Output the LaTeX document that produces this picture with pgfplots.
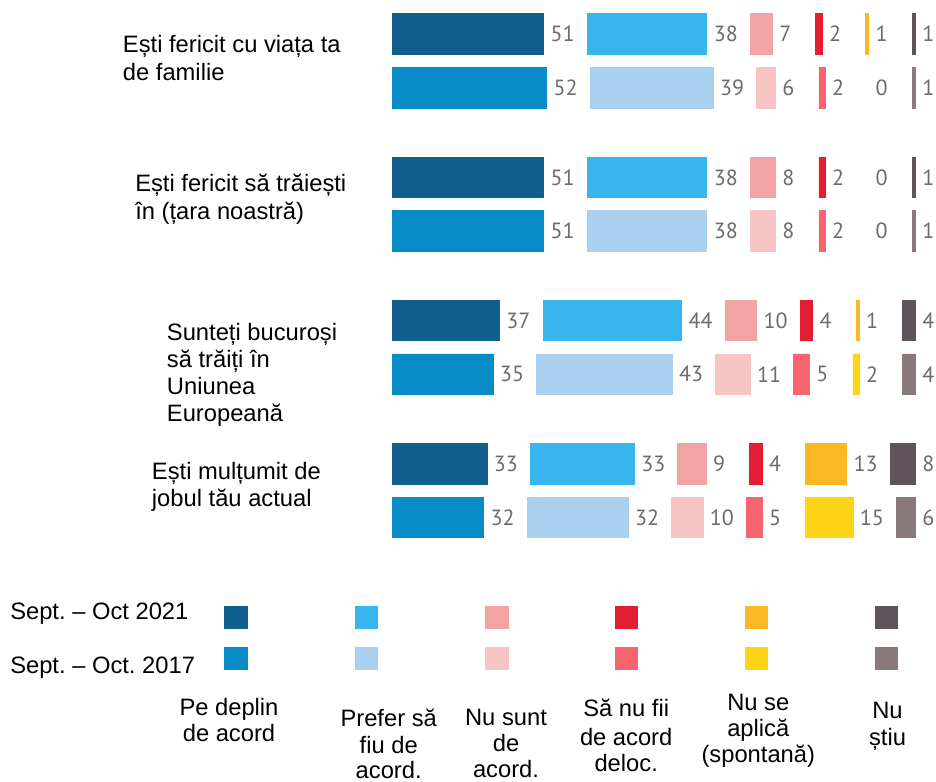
\documentclass[border=0pt]{standalone}
\usepackage{pgfplots}
\pgfplotsset{compat=1.18}
\usepackage{pgfplotstable}
\usepackage{fontspec}
\setmainfont{Liberation Sans}
\newfontfamily\numfont{PT Sans}
\frenchspacing

\definecolor{cAn}{HTML}{0F5E8C}
\definecolor{cAo}{HTML}{088CC8}
\definecolor{cBn}{HTML}{37B6ED}
\definecolor{cBo}{HTML}{A9D0EF}
\definecolor{cCn}{HTML}{F4A3A3}
\definecolor{cCo}{HTML}{F6C5C4}
\definecolor{cDn}{HTML}{E31E33}
\definecolor{cDo}{HTML}{F5646F}
\definecolor{cEn}{HTML}{FAB823}
\definecolor{cEo}{HTML}{FFD416}
\definecolor{cFn}{HTML}{5F545B}
\definecolor{cFo}{HTML}{8A797B}
\definecolor{labgray}{HTML}{6E696E}

% y = row position (px from top), a..f = percentages,
% g = gap between columns, h = short end spacer for the last labels
\pgfplotstableread{
y     a  b  c  d  e  f  g    h
34    51 38 7  2  1  1  13.8 2
177.5 51 38 8  2  0  1  13.8 2
320.5 37 44 10 4  1  4  13.8 2
463.7 33 33 9  4  13 8  13.8 2
}\datanew
\pgfplotstableread{
y     a  b  c  d  e  f  g    h
88    52 39 6  2  0  1  13.8 2
231   51 38 8  2  0  1  13.8 2
374.2 35 43 11 5  2  4  13.8 2
517.5 32 32 10 5  15 6  13.8 2
}\dataold

\pgfplotsset{
  barax/.style={
    xbar stacked, x=2.3625pt, y=0.75pt, y dir=reverse,
    xmin=2.857, xmax=175, ymin=0, ymax=560,
    enlargelimits=false, hide axis, bar width=30.4pt,
    at={(294pt,0pt)}, anchor=north west,
    /pgf/number format/assume math mode=true,
    nodes near coords align=horizontal,
    every node near coord/.append style={anchor=west, inner sep=0pt, xshift=-11.3pt,
      font=\numfont\fontsize{16.5}{18}\selectfont, text=labgray},
  },
  vbar/.style={fill=#1, draw=#1, line width=0.6pt},
  gapbar/.style={draw=none, fill=none, nodes near coords, point meta=explicit},
  endbar/.style={draw=none, fill=none, nodes near coords, point meta=explicit,
    every node near coord/.append style={xshift=13.94pt}},
}

\begin{document}
\begin{tikzpicture}
\begin{scope}[x=0.75pt,y=-0.75pt]
\path[use as bounding box] (0,0) rectangle (936,782);
\end{scope}

% 2021 rows
\begin{axis}[barax]
\addplot[vbar=cAn] table[x=a,y=y]{\datanew};
\addplot[gapbar] table[x=g,y=y,meta=a]{\datanew};
\addplot[vbar=cBn] table[x=b,y=y]{\datanew};
\addplot[gapbar] table[x=g,y=y,meta=b]{\datanew};
\addplot[vbar=cCn] table[x=c,y=y]{\datanew};
\addplot[gapbar] table[x=g,y=y,meta=c]{\datanew};
\addplot[vbar=cDn] table[x=d,y=y]{\datanew};
\addplot[gapbar] table[x=g,y=y,meta=d]{\datanew};
\addplot[vbar=cEn] table[x=e,y=y]{\datanew};
\addplot[gapbar] table[x=g,y=y,meta=e]{\datanew};
\addplot[vbar=cFn] table[x=f,y=y]{\datanew};
\addplot[endbar] table[x=h,y=y,meta=f]{\datanew};
\end{axis}

% 2017 rows
\begin{axis}[barax]
\addplot[vbar=cAo] table[x=a,y=y]{\dataold};
\addplot[gapbar] table[x=g,y=y,meta=a]{\dataold};
\addplot[vbar=cBo] table[x=b,y=y]{\dataold};
\addplot[gapbar] table[x=g,y=y,meta=b]{\dataold};
\addplot[vbar=cCo] table[x=c,y=y]{\dataold};
\addplot[gapbar] table[x=g,y=y,meta=c]{\dataold};
\addplot[vbar=cDo] table[x=d,y=y]{\dataold};
\addplot[gapbar] table[x=g,y=y,meta=d]{\dataold};
\addplot[vbar=cEo] table[x=e,y=y]{\dataold};
\addplot[gapbar] table[x=g,y=y,meta=e]{\dataold};
\addplot[vbar=cFo] table[x=f,y=y]{\dataold};
\addplot[endbar] table[x=h,y=y,meta=f]{\dataold};
\end{axis}

% legend squares (pixel axis)
\begin{axis}[x=0.75pt, y=0.75pt, y dir=reverse, xmin=0, xmax=936, ymin=0, ymax=782,
  enlargelimits=false, hide axis, clip=false, at={(0pt,0pt)}, anchor=north west]
\addplot[only marks, mark=square*, mark size=8.4pt, color=cAn] coordinates {(235.7,617.3)};
\addplot[only marks, mark=square*, mark size=8.4pt, color=cAo] coordinates {(235.7,658.3)};
\addplot[only marks, mark=square*, mark size=8.4pt, color=cBn] coordinates {(366,617.3)};
\addplot[only marks, mark=square*, mark size=8.4pt, color=cBo] coordinates {(366,658.3)};
\addplot[only marks, mark=square*, mark size=8.4pt, color=cCn] coordinates {(496.7,617.3)};
\addplot[only marks, mark=square*, mark size=8.4pt, color=cCo] coordinates {(496.7,658.3)};
\addplot[only marks, mark=square*, mark size=8.4pt, color=cDn] coordinates {(626.2,617.3)};
\addplot[only marks, mark=square*, mark size=8.4pt, color=cDo] coordinates {(626.2,658.3)};
\addplot[only marks, mark=square*, mark size=8.4pt, color=cEn] coordinates {(756.2,617.3)};
\addplot[only marks, mark=square*, mark size=8.4pt, color=cEo] coordinates {(756.2,658.3)};
\addplot[only marks, mark=square*, mark size=8.4pt, color=cFn] coordinates {(886.3,617.3)};
\addplot[only marks, mark=square*, mark size=8.4pt, color=cFo] coordinates {(886.3,658.3)};
\end{axis}

\begin{scope}[x=0.75pt,y=-0.75pt, every node/.style={inner sep=0pt, font=\fontsize{17.8}{20}\selectfont}]
% question labels
\node[anchor=base west] at (122.7,52) {Ești fericit cu viața ta};
\node[anchor=base west] at (122.7,80.7) {de familie};
\node[anchor=base west] at (135,191) {Ești fericit să trăiești};
\node[anchor=base west] at (135,219) {în (țara noastră)};
\node[anchor=base west] at (166.7,340) {Sunteți bucuroși};
\node[anchor=base west] at (166.7,367.7) {să trăiți în};
\node[anchor=base west] at (166.7,394) {Uniunea};
\node[anchor=base west] at (166.7,421.7) {Europeană};
\node[anchor=base west] at (151.7,479.3) {Ești mulțumit de};
\node[anchor=base west] at (151.7,506.7) {jobul tău actual};
% legend rows
\node[anchor=base west] at (10,619.3) {Sept. – Oct 2021};
\node[anchor=base west] at (10,673.3) {Sept. – Oct. 2017};
% category labels
\node[anchor=base] at (229,715) {Pe deplin};
\node[anchor=base] at (229,741.7) {de acord};
\node[anchor=base] at (388.7,726.7) {Prefer să};
\node[anchor=base] at (388.7,753.3) {fiu de};
\node[anchor=base] at (388.7,778) {acord.};
\node[anchor=base] at (506,725) {Nu sunt};
\node[anchor=base] at (506,751.7) {de};
\node[anchor=base] at (506,777) {acord.};
\node[anchor=base] at (626.2,716.7) {Să nu fii};
\node[anchor=base] at (626.2,745) {de acord};
\node[anchor=base] at (626.2,771.7) {deloc.};
\node[anchor=base] at (758.3,710) {Nu se};
\node[anchor=base] at (758.3,736.7) {aplică};
\node[anchor=base] at (758.3,762.7) {(spontană)};
\node[anchor=base] at (887.5,718.3) {Nu};
\node[anchor=base] at (887.5,745) {știu};
\end{scope}
\end{tikzpicture}
\end{document}
